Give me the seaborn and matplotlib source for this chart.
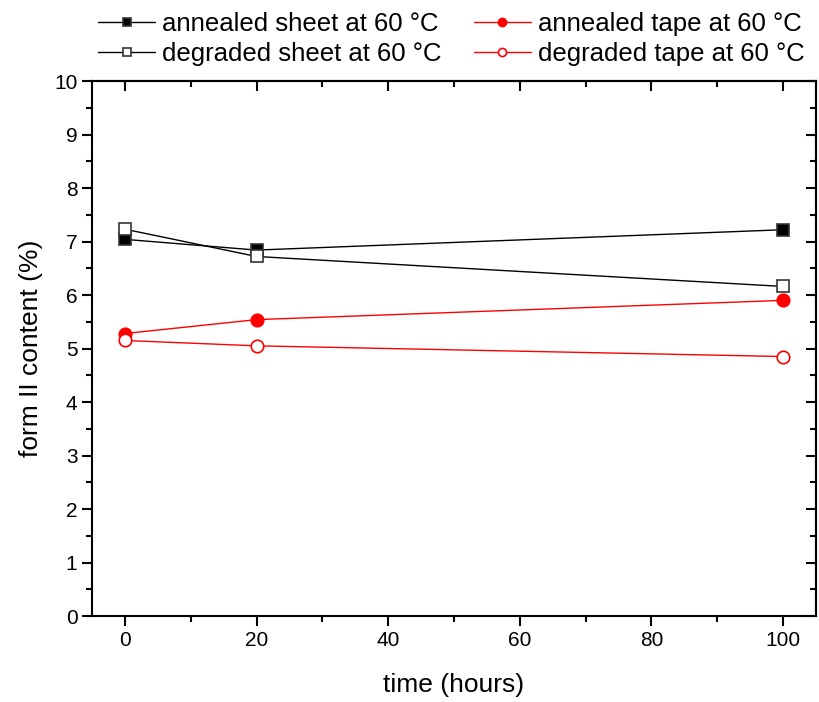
"""
Form II content vs. annealing / degradation time for sheets and tapes at 60 °C.
"""

import pandas as pd
import matplotlib.pyplot as plt
import seaborn as sns
from matplotlib.ticker import MultipleLocator

# data
time_h = [0, 20, 100]
annealed_sheet = [7.04, 6.84, 7.22]
degraded_sheet = [7.23, 6.72, 6.16]
annealed_tape = [5.28, 5.54, 5.90]
degraded_tape = [5.15, 5.05, 4.85]

labels = ['annealed sheet at 60 °C', 'degraded sheet at 60 °C',
          'annealed tape at 60 °C', 'degraded tape at 60 °C']
values = [annealed_sheet, degraded_sheet, annealed_tape, degraded_tape]

sns.set_theme(style='ticks')
plt.rcParams['font.family'] = ['Liberation Sans', 'DejaVu Sans']
plt.rcParams.update({'text.color': 'black', 'axes.labelcolor': 'black',
                     'xtick.color': 'black', 'ytick.color': 'black'})


def build_frame():
    rows = []
    for lab, vals in zip(labels, values):
        for t, v in zip(time_h, vals):
            rows.append({'time': t, 'content': v, 'series': lab})
    return pd.DataFrame(rows)


def style_ticks(axis_obj, direction, **kw):
    axis_obj.tick_params(which='both', direction=direction, width=1.5, **kw)
    axis_obj.tick_params(which='major', length=7)
    axis_obj.tick_params(which='minor', length=4)


def main():
    df = build_frame()
    fig = plt.figure(figsize=(8.19, 7.02), dpi=100)
    ax = fig.add_axes([0.1123, 0.1225, 0.8840, 0.7621])

    styles = {
        labels[0]: dict(color='black', marker='s', mfc='black', mec='#333333'),
        labels[1]: dict(color='black', marker='s', mfc='white', mec='#333333'),
        labels[2]: dict(color='red', marker='o', mfc='red', mec='red'),
        labels[3]: dict(color='red', marker='o', mfc='white', mec='red'),
    }
    for lab in labels:
        st = styles[lab]
        sns.lineplot(data=df[df['series'] == lab], x='time', y='content', ax=ax,
                     color=st['color'], marker=st['marker'], markersize=9,
                     markerfacecolor=st['mfc'], markeredgecolor=st['mec'],
                     markeredgewidth=1.2, linewidth=1.0, label=lab)

    ax.set_xlim(-5, 105)
    ax.set_ylim(0, 10)
    ax.xaxis.set_major_locator(MultipleLocator(20))
    ax.xaxis.set_minor_locator(MultipleLocator(10))
    ax.yaxis.set_major_locator(MultipleLocator(1))
    ax.yaxis.set_minor_locator(MultipleLocator(0.5))
    style_ticks(ax, 'out', labelsize=15, top=False, right=False)

    # inward ticks on top and right, Origin style
    sec_x = ax.secondary_xaxis('top')
    sec_x.xaxis.set_major_locator(MultipleLocator(20))
    sec_x.xaxis.set_minor_locator(MultipleLocator(10))
    style_ticks(sec_x, 'in', labeltop=False)
    sec_y = ax.secondary_yaxis('right')
    sec_y.yaxis.set_major_locator(MultipleLocator(1))
    sec_y.yaxis.set_minor_locator(MultipleLocator(0.5))
    style_ticks(sec_y, 'in', labelright=False)
    for sp in list(ax.spines.values()) + [sec_x.spines['top'], sec_y.spines['right']]:
        sp.set_linewidth(1.5)
        sp.set_color('black')

    ax.set_xlabel('time (hours)', fontsize=19, labelpad=17)
    ax.set_ylabel('form II content (%)', fontsize=19, labelpad=8)

    handles, labs = ax.get_legend_handles_labels()
    ax.get_legend().remove()
    fig.legend(handles, labs, ncol=2, loc='upper left',
               bbox_to_anchor=(0.098, 1.0085), frameon=False,
               fontsize=18.5, handlelength=2.2, handletextpad=0.3,
               columnspacing=1.25, labelspacing=0.25, borderpad=0.2,
               markerscale=0.65)

    fig.savefig('out.png', dpi=100)
    plt.close(fig)


if __name__ == "__main__":
    main()
